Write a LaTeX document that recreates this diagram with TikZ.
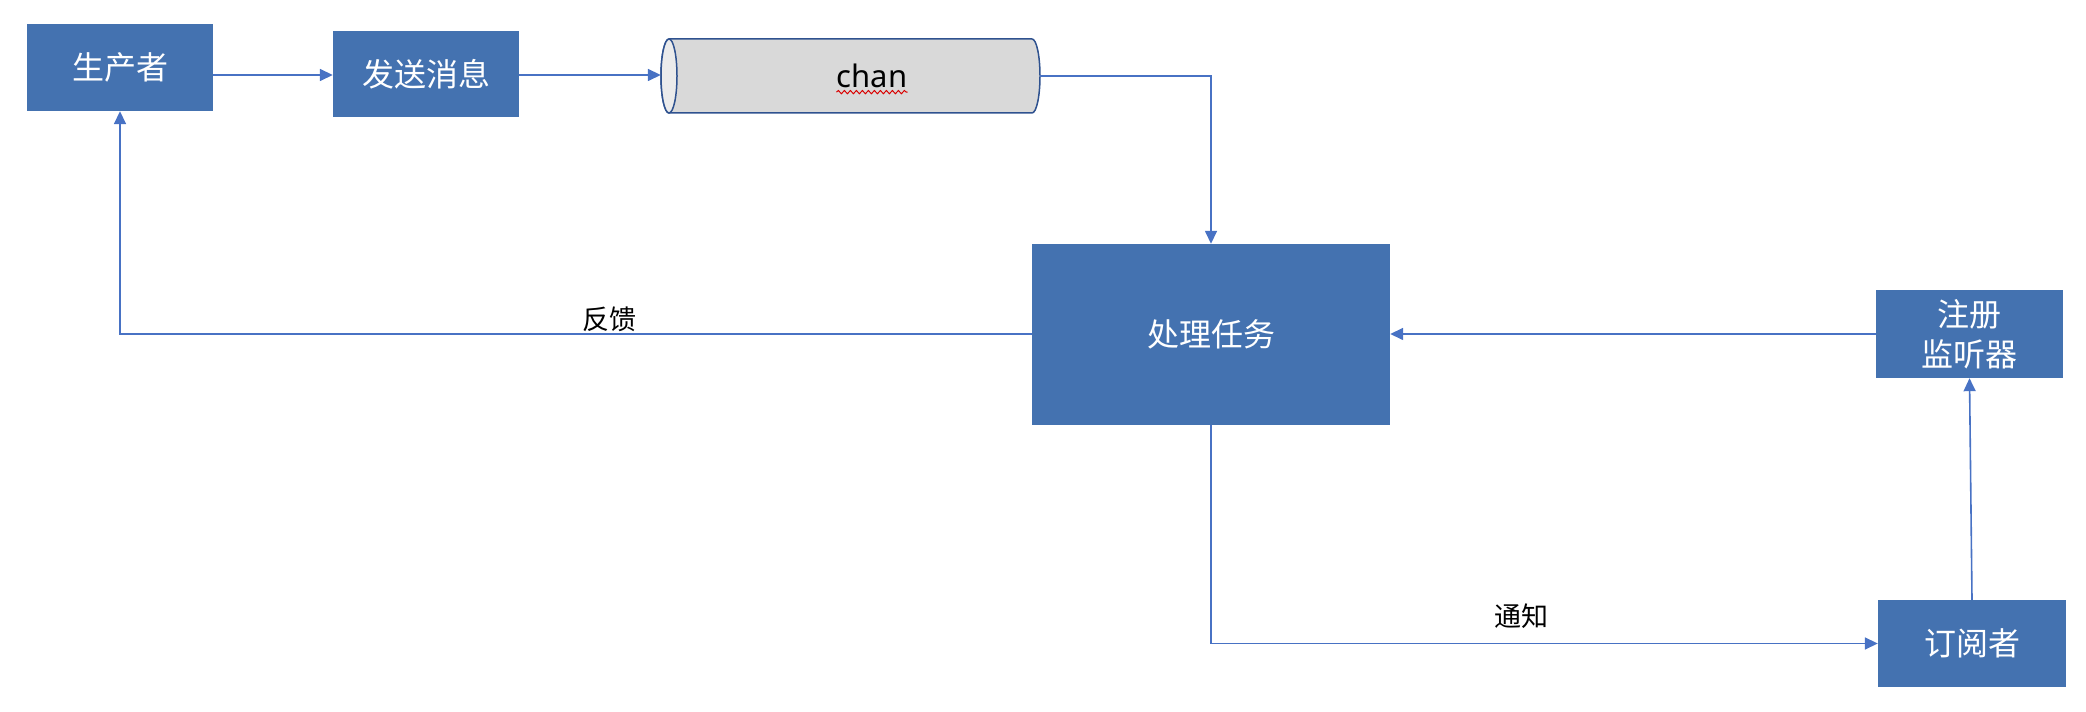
\documentclass[tikz,border=0pt]{standalone}
\usepackage{fontspec}
\setmainfont{Noto Sans CJK SC}
\newfontfamily\latinfont{Noto Sans}
\usetikzlibrary{arrows.meta,decorations.pathmorphing}
\definecolor{boxblue}{RGB}{68,114,176}
\definecolor{lineblue}{RGB}{72,114,196}
\definecolor{cylborder}{RGB}{47,82,143}
\definecolor{cylbody}{RGB}{217,217,217}
\definecolor{cylend}{RGB}{235,235,235}
\tikzset{
  bluebox/.style={draw=none,fill=boxblue,text=white,inner sep=0pt,align=center,
    font=\fontsize{32}{40}\selectfont},
  conn/.style={draw=lineblue,line width=1.6pt,-{Triangle[length=13pt,width=12pt]}},
  lbl/.style={font=\fontsize{27}{32}\selectfont,text=black,inner sep=0pt}
}
\begin{document}
\begin{tikzpicture}[x=1pt,y=1pt]
\useasboundingbox (0,0) rectangle (2086,712);
% boxes
\node[bluebox,minimum width=186pt,minimum height=87pt] (sc) at (120,644.5) {生产者};
\node[bluebox,minimum width=186pt,minimum height=86pt] (fs) at (426,638) {发送消息};
\node[bluebox,minimum width=358pt,minimum height=181pt] (cl) at (1211,377.5) {处理任务};
\node[bluebox,minimum width=187pt,minimum height=88pt] (zc) at (1969.5,378) {注册\\监听器};
\node[bluebox,minimum width=188pt,minimum height=87pt] (dy) at (1972,68.5) {订阅者};
% cylinder (chan)
\path[fill=cylbody,draw=cylborder,line width=1.5pt]
  (669,673) -- (1032,673) arc[start angle=90,end angle=-90,x radius=8,y radius=37]
  -- (669,599) arc[start angle=270,end angle=90,x radius=8,y radius=37] -- cycle;
\path[fill=cylend,draw=cylborder,line width=1.5pt] (669,636) ellipse[x radius=8,y radius=37];
\node[inner sep=0pt,minimum width=379pt,minimum height=74pt] (ch) at (850.5,636) {};
\node[font=\latinfont\fontsize{31}{36}\selectfont,text=black,inner sep=0pt] (chtxt) at (872,636) {chan};
\draw[red!85!black,line width=1pt,decorate,decoration={snake,amplitude=1.6pt,segment length=6pt}]
  ([yshift=-4pt]chtxt.south west) -- ([yshift=-4pt]chtxt.south east);
% connectors
\draw[conn] (sc.east |- 0,637) -- (fs.west |- 0,637);
\draw[conn] (fs.east |- 0,637) -- (ch.west |- 0,637);
\draw[conn] (ch.east) -| (cl.north);
\draw[conn] (zc.west) -- (cl.east |- zc.west);
\draw[conn] (cl.west |- zc.west) -| (sc.south);
\draw[conn] (cl.south) |- (dy.west);
\draw[conn] (dy.north) -- (zc.south);
% labels
\node[lbl] (fk) at (609,393) {反馈};
\node[lbl] (tz) at (1521,96) {通知};
\end{tikzpicture}
\end{document}
